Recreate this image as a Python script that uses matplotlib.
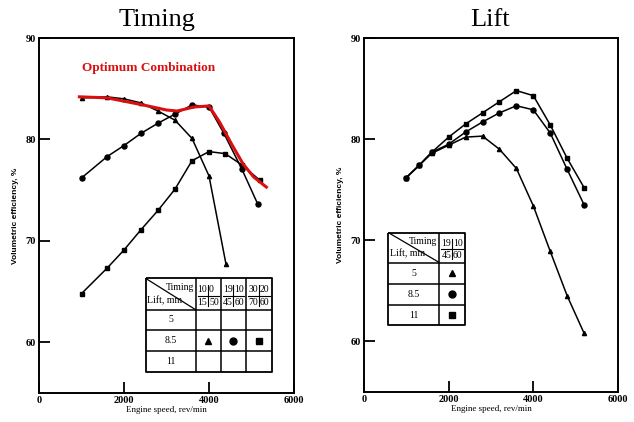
import numpy as np
import matplotlib
matplotlib.use("Agg")
import matplotlib.pyplot as plt

plt.rcParams['font.family'] = ['Liberation Serif', 'DejaVu Serif']

# ---- data ----
# Timing plot, valve lift 8.5 mm, three timings
speed_t1 = [1000, 1600, 2000, 2400, 2800, 3200, 3600, 4000, 4400]
eff_t1 = [84.1, 84.2, 84.0, 83.6, 82.8, 81.9, 80.1, 76.4, 67.7]          # 10|0 15|50
speed_t2 = [1000, 1600, 2000, 2400, 2800, 3200, 3600, 4000, 4350, 4770, 5150]
eff_t2 = [76.2, 78.3, 79.4, 80.6, 81.6, 82.5, 83.4, 83.2, 80.6, 77.1, 73.6]  # 19|10 45|60
speed_t3 = [1000, 1600, 2000, 2400, 2800, 3200, 3600, 4000, 4380, 4770, 5190]
eff_t3 = [64.8, 67.3, 69.1, 71.1, 73.0, 75.1, 77.9, 78.8, 78.6, 77.5, 76.0]  # 30|20 70|60

# red "optimum combination" envelope
speed_opt = [950, 1600, 2450, 3000, 3250, 3650, 4000, 4250, 4550, 4800, 5050, 5350]
eff_opt = [84.2, 84.1, 83.4, 82.9, 82.8, 83.2, 83.3, 81.7, 79.4, 77.6, 76.3, 75.3]

# Lift plot, timing 19|10 45|60, three lifts
speed_lift = [1000, 1300, 1600, 2000, 2400, 2800, 3200, 3600, 4000, 4400, 4800, 5200]
eff_lift5 = [76.2, 77.4, 78.6, 79.4, 80.2, 80.3, 79.0, 77.1, 73.4, 68.9, 64.5, 60.8]
eff_lift85 = [76.2, 77.4, 78.7, 79.5, 80.7, 81.7, 82.6, 83.3, 82.9, 80.6, 77.0, 73.5]
eff_lift11 = [76.2, 77.4, 78.7, 80.2, 81.5, 82.6, 83.7, 84.8, 84.3, 81.4, 78.1, 75.2]

timing_labels = [("10", "0", "15", "50"), ("19", "10", "45", "60"), ("30", "20", "70", "60")]
lift_labels = ["5", "8.5", "11"]

W, H = 634, 422
fig = plt.figure(figsize=(W / 100, H / 100), dpi=100)


def px_axes(x0, x1, ytop, ybot):
    return fig.add_axes([x0 / W, 1 - ybot / H, (x1 - x0) / W, (ybot - ytop) / H])


def style_axes(ax):
    ax.set_xlim(0, 6000)
    ax.set_ylim(55, 90)
    ax.set_xticks([0, 2000, 4000, 6000])
    ax.set_yticks([60, 70, 80, 90])
    ax.tick_params(direction='in', length=8, width=1.3, labelsize=7.5, pad=2)
    for lab in ax.get_xticklabels() + ax.get_yticklabels():
        lab.set_fontweight('bold')
    for s in ax.spines.values():
        s.set_linewidth(1.4)
    ax.set_xlabel('Engine speed, rev/min', fontsize=6.5, labelpad=1)
    ax.set_ylabel('Volumetric efficiency, %', fontsize=6, fontweight='bold',
                  family='Liberation Sans', labelpad=5)


def line(ax, xs, ys, lw=1.0):
    ax.plot(xs, ys, color='black', lw=lw, solid_capstyle='butt', zorder=4)


def draw_table(ax, xe, ye, col_heads, rows, cells):
    # xe: column edges, ye: row edges (top to bottom), data coords
    line(ax, [xe[0], xe[-1], xe[-1], xe[0], xe[0]], [ye[0], ye[0], ye[-1], ye[-1], ye[0]], 1.3)
    for x in xe[1:-1]:
        line(ax, [x, x], [ye[0], ye[-1]], 1.1)
    for y in ye[1:-1]:
        line(ax, [xe[0], xe[-1]], [y, y], 1.1)
    # header diagonal
    line(ax, [xe[0], xe[1]], [ye[0], ye[1]], 0.9)
    hh = ye[0] - ye[1]
    ax.text(xe[1] - 50, ye[0] - 0.3 * hh, 'Timing', ha='right', va='center', fontsize=7, zorder=5)
    ax.text(xe[0] + 30, ye[1] + 0.3 * hh, 'Lift, mm', ha='left', va='center', fontsize=7, zorder=5)
    for i, (a, b, c, d) in enumerate(col_heads):
        xl, xr = xe[i + 1], xe[i + 2]
        xm = (xl + xr) / 2
        ax.plot([xm, xm], [ye[0] - 0.2 * hh, ye[1] + 0.12 * hh], color='black', lw=0.8, zorder=5)
        ax.plot([xl + 50, xr - 50], [ye[0] - 0.55 * hh] * 2, color='black', lw=0.8, zorder=5)
        ax.text(xm - 20, ye[0] - 0.36 * hh, a, ha='right', va='center', fontsize=7, zorder=5)
        ax.text(xm + 20, ye[0] - 0.36 * hh, b, ha='left', va='center', fontsize=7, zorder=5)
        ax.text(xm - 20, ye[0] - 0.76 * hh, c, ha='right', va='center', fontsize=7, zorder=5)
        ax.text(xm + 20, ye[0] - 0.76 * hh, d, ha='left', va='center', fontsize=7, zorder=5)
    for r, lab in enumerate(rows):
        ym = (ye[r + 1] + ye[r + 2]) / 2
        ax.text((xe[0] + xe[1]) / 2, ym, lab, ha='center', va='center', fontsize=7, zorder=5)
    for (r, c, mk, ms) in cells:
        ym = (ye[r + 1] + ye[r + 2]) / 2
        xm = (xe[c + 1] + xe[c + 2]) / 2
        ax.plot([xm], [ym], marker=mk, ms=ms, color='black', zorder=6)


# ---- left: Timing ----
ax1 = px_axes(39, 294, 38, 393)
style_axes(ax1)
ax1.plot(speed_t1, eff_t1, color='black', lw=1.1, marker='^', ms=3, zorder=3)
ax1.plot(speed_t2, eff_t2, color='black', lw=1.1, marker='o', ms=3.6, zorder=3)
ax1.plot(speed_t3, eff_t3, color='black', lw=1.1, marker='s', ms=3.4, zorder=3)
ax1.plot(speed_opt, eff_opt, color='#d81010', lw=2.2, zorder=4)
ax1.text(1020, 87.0, 'Optimum Combination', color='#d81010', fontsize=9.5,
         fontweight='bold', ha='left', va='center')
draw_table(ax1, [2510, 3690, 4275, 4870, 5475], [66.3, 63.2, 61.2, 59.1, 57.1],
           timing_labels, lift_labels,
           [(1, 0, '^', 4.5), (1, 1, 'o', 5), (1, 2, 's', 4.5)])
fig.text(157 / W, 1 - 20 / H, 'Timing', fontsize=19, ha='center', va='center')

# ---- right: Lift ----
ax2 = px_axes(364, 618, 38, 392)
style_axes(ax2)
ax2.plot(speed_lift, eff_lift5, color='black', lw=1.1, marker='^', ms=3, zorder=3)
ax2.plot(speed_lift, eff_lift85, color='black', lw=1.1, marker='o', ms=3.6, zorder=3)
ax2.plot(speed_lift, eff_lift11, color='black', lw=1.1, marker='s', ms=3.4, zorder=3)
draw_table(ax2, [574, 1780, 2386], [70.76, 67.8, 65.7, 63.6, 61.6],
           [timing_labels[1]], lift_labels,
           [(0, 0, '^', 4.5), (1, 0, 'o', 5), (2, 0, 's', 4.5)])
fig.text(490 / W, 1 - 20 / H, 'Lift', fontsize=19, ha='center', va='center')

fig.savefig('out.png', dpi=100)
